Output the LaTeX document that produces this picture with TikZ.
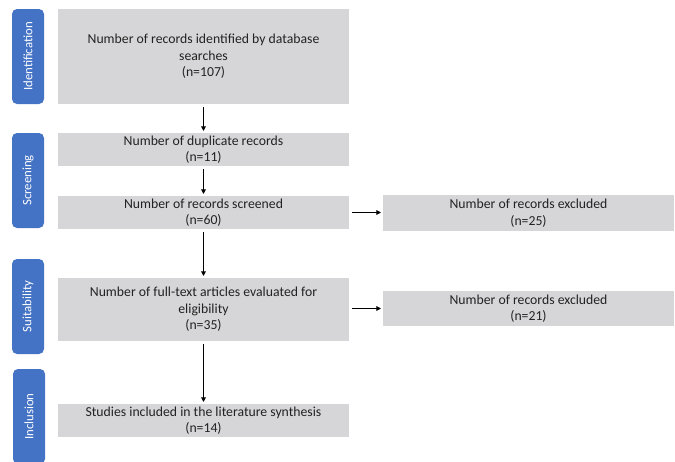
\documentclass[tikz,border=0pt]{standalone}
\usepackage{fontspec}
\setmainfont{Carlito}
\usetikzlibrary{arrows.meta}
\definecolor{boxgray}{HTML}{D6D6D8}
\definecolor{tabblue}{HTML}{4472C4}
\definecolor{txt}{HTML}{222222}
\begin{document}
\begin{tikzpicture}[x=0.75pt,y=-0.75pt,
  box/.style={draw=none,fill=boxgray,inner sep=0pt,outer sep=0pt,minimum width=218.25pt,align=center,
    text=txt,font=\fontsize{10.3}{12.4}\selectfont},
  tab/.style={draw=none,fill=tabblue,rounded corners=3.75pt,inner sep=0pt,outer sep=0pt,minimum width=24pt,minimum height=71.25pt},
  tablabel/.style={text=white,rotate=90,font=\fontsize{9.6}{11}\selectfont},
  arr/.style={draw=black,line width=1.05pt,-{Triangle[length=3.5pt,width=3.5pt]},shorten <=2.25pt,shorten >=1.5pt}]
\useasboundingbox (0,0) rectangle (675,461);
\clip (0,0) rectangle (675,461);
% tabs
\node[tab] (t1) at (28,56.5) {};
\node[tablabel] (l1) at (t1.center) {Identification};
\node[tab] (t2) at (28,180.5) {};
\node[tablabel] (l2) at (t2.center) {Screening};
\node[tab] (t3) at (28,306.5) {};
\node[tablabel] (l3) at (t3.center) {Suitability};
\node[tab] (t4) at (29,416.5) {};
\node[tablabel] (l4) at (t4.center) {Inclusion};
% boxes
\node[box,minimum height=71.25pt] (b1) at (203.5,56.5) {Number of records identified by database\\searches\\(n=107)};
\node[box,minimum height=24.75pt] (b2) at (203.5,149.5) {Number of duplicate records\\(n=11)};
\node[box,minimum height=24.75pt] (b3) at (203.5,212.5) {Number of records screened\\(n=60)};
\node[box,minimum height=47.25pt] (b4) at (203.5,309.5) {Number of full-text articles evaluated for\\eligibility\\(n=35)};
\node[box,minimum height=24.75pt] (b5) at (203.5,420.5) {Studies included in the literature synthesis\\(n=14)};
\node[box,minimum height=27pt] (e1) at (528.5,213) {Number of records excluded\\(n=25)};
\node[box,minimum height=26.25pt] (e2) at (528.5,308.5) {Number of records excluded\\(n=21)};
% arrows
\draw[arr] (b1.south) -- (b2.north);
\draw[arr] (b2.south) -- (b3.north);
\draw[arr] (b3.south) -- (b4.north);
\draw[arr] (b4.south) -- (b5.north);
\draw[arr] (b3.east) -- (b3.east -| e1.west);
\draw[arr] (b4.east |- e2.west) -- (e2.west);
\end{tikzpicture}
\end{document}
